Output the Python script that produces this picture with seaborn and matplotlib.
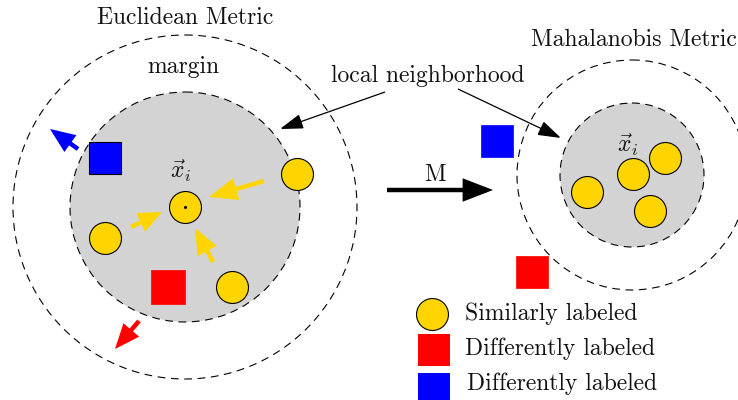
import matplotlib
matplotlib.use("Agg")
import matplotlib.pyplot as plt
from matplotlib.patches import Circle
import pandas as pd
import seaborn as sns

sns.set_theme(style="white")
plt.rcParams["font.family"] = ["cmr10", "DejaVu Serif"]
plt.rcParams["mathtext.fontset"] = "cm"
plt.rcParams["axes.formatter.use_mathtext"] = True
plt.rcParams["text.color"] = "#111111"

# points (pixel-like coordinates, y grows downwards)
euc_similar_x = [185, 105, 297, 232]
euc_similar_y = [207, 238, 174, 287]
mah_similar_x = [633, 587, 665, 650]
mah_similar_y = [174, 192, 158, 211]
red_x = [168, 532]
red_y = [287, 272]
blue_x = [105, 497]
blue_y = [158, 141]

# neighborhoods: center x, center y, outer radius, inner radius
hoods = {
    "Euclidean Metric": (185, 207, 172, 115),
    "Mahalanobis Metric": (632, 175, 115, 72),
}

legend_labels = ["Similarly labeled", "Differently labeled", "Differently labeled"]

YELLOW = "#ffd500"
RED = "#ff0000"
BLUE = "#0000ff"
GREY = "#d3d3d3"
FS = 17

fig = plt.figure(figsize=(7.38, 4.0), dpi=100)
ax = fig.add_axes([0, 0, 1, 1])
ax.set_xlim(0, 738)
ax.set_ylim(400, 0)
ax.axis("off")

for name, (cx, cy, r_out, r_in) in hoods.items():
    ax.add_patch(Circle((cx, cy), r_out, fill=False, ec="black", lw=0.8,
                        ls=(0, (7, 5)), zorder=1))
    ax.add_patch(Circle((cx, cy), r_in, fc=GREY, ec="black", lw=0.8,
                        ls=(0, (7, 5)), zorder=1))

ax.text(185, 18, "Euclidean Metric", ha="center", va="center", fontsize=FS)
ax.text(634, 40, "Mahalanobis Metric", ha="center", va="center", fontsize=FS)
ax.text(183, 67, "margin", ha="center", va="center", fontsize=FS)
ax.text(428, 76, "local neighborhood", ha="center", va="center", fontsize=FS)
ax.text(181, 171, r"$\vec{x}_i$", ha="center", va="center", fontsize=FS)
ax.text(628, 145, r"$\vec{x}_i$", ha="center", va="center", fontsize=FS)
ax.text(435, 175, "M", ha="center", va="center", fontsize=FS)

circ_size = 23 ** 2
sq_size = 23 ** 2

similar = pd.DataFrame({
    "x": euc_similar_x + mah_similar_x,
    "y": euc_similar_y + mah_similar_y,
})
sns.scatterplot(data=similar, x="x", y="y", ax=ax, s=circ_size, marker="o",
                color=YELLOW, edgecolor="black", linewidth=0.8, zorder=4,
                legend=False)
ax.plot(euc_similar_x[0], euc_similar_y[0], "o", ms=1.2, color="black", zorder=5)

sns.scatterplot(x=red_x, y=red_y, ax=ax, s=[sq_size * 1.15, sq_size], marker="s",
                color=RED, edgecolor=RED, linewidth=0.5, zorder=4, legend=False)
sns.scatterplot(x=blue_x[:1], y=blue_y[:1], ax=ax, s=sq_size, marker="s",
                color=BLUE, edgecolor="black", linewidth=0.8, zorder=4, legend=False)
sns.scatterplot(x=blue_x[1:], y=blue_y[1:], ax=ax, s=sq_size, marker="s",
                color=BLUE, edgecolor=BLUE, linewidth=0.5, zorder=4, legend=False)

MS = 10  # mutation scale in points
MS_PX = MS / 72 * 100


# pull / push arrows, head sizes given in pixels
def arrow(start, end, color, lw, hl_px, hw_px):
    style = f"-|>,head_length={hl_px / MS_PX:.3f},head_width={hw_px / 2 / MS_PX:.3f}"
    ax.annotate("", xy=end, xytext=start,
                arrowprops=dict(arrowstyle=style, color=color, lw=lw,
                                mutation_scale=MS, shrinkA=0, shrinkB=0,
                                joinstyle="miter", capstyle="butt"),
                zorder=3)


arrow((264, 181), (209, 197), YELLOW, 3.2, 20, 16)
arrow((131, 227), (162, 212), YELLOW, 3.2, 16, 14)
arrow((213, 262), (195, 228), YELLOW, 3.2, 18, 15)
arrow((78, 149), (50, 129), BLUE, 3.2, 17, 14)
arrow((139, 321), (115, 349), RED, 3.2, 17, 14)
arrow((385, 92), (280, 129), "black", 0.9, 20, 13)
arrow((458, 89), (561, 138), "black", 0.9, 20, 13)
arrow((387, 190), (493, 190), "black", 3.2, 22, 17)

# legend
sns.scatterplot(x=[432], y=[314], ax=ax, s=circ_size, marker="o", color=YELLOW,
                edgecolor="black", linewidth=0.8, legend=False, zorder=4)
sns.scatterplot(x=[434, 434], y=[350, 389], ax=ax, s=sq_size, marker="s",
                color=[RED, BLUE], edgecolor="none", legend=False, zorder=4)
for ty, tx, lab in zip([314, 349, 384], [465, 465, 467], legend_labels):
    ax.text(tx, ty, lab, ha="left", va="center", fontsize=FS)

fig.savefig("out.png", dpi=100)
